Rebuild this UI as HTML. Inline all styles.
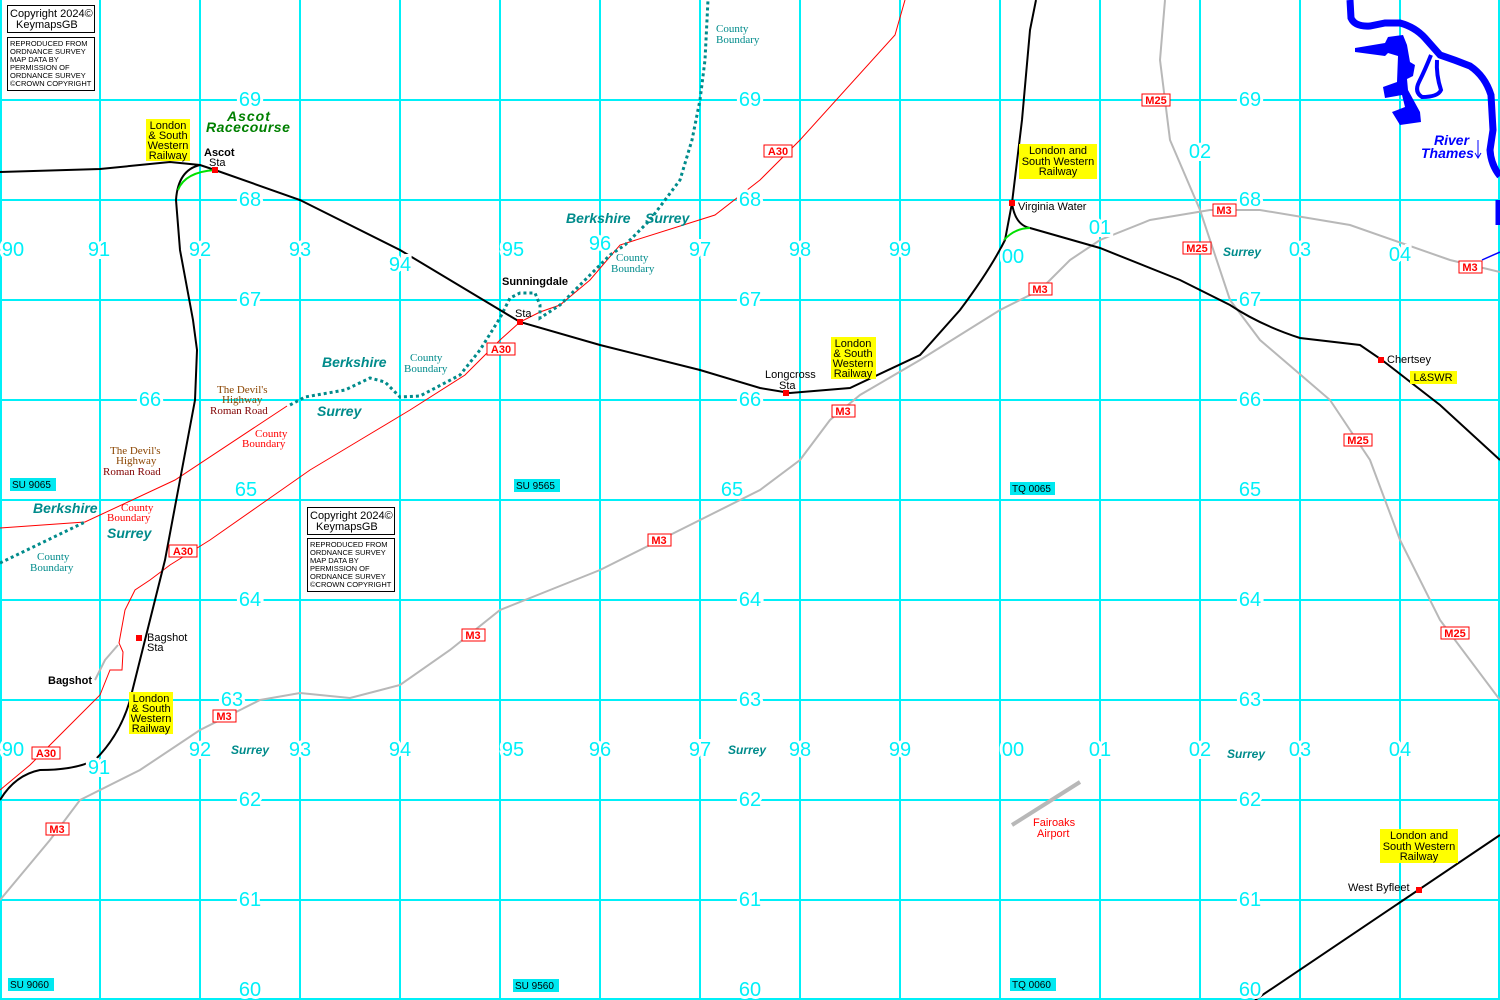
<!DOCTYPE html>
<html><head><meta charset="utf-8"><style>
html,body{margin:0;padding:0;background:#fff}
svg{display:block}
.g{font-family:"Liberation Sans",sans-serif;font-size:20px;fill:#00f0f8;stroke:#fff;stroke-width:6;paint-order:stroke;text-anchor:middle;dominant-baseline:central}
.s{font-family:"Liberation Sans",sans-serif;font-size:11px;fill:#000}
.b{font-weight:bold}
.t{font-family:"Liberation Sans",sans-serif;font-size:14px;font-style:italic;font-weight:bold;fill:#008b8b}
.se{font-family:"Liberation Serif",serif;font-size:11px}
.rl{font-family:"Liberation Sans",sans-serif;font-size:11px;font-weight:bold;fill:#f00;text-anchor:middle}
.y{font-family:"Liberation Sans",sans-serif;font-size:11px;fill:#000;text-anchor:middle}
.gr{font-family:"Liberation Sans",sans-serif;font-size:10px;fill:#000}
.c1{font-family:"Liberation Sans",sans-serif;font-size:11px}
.c2{font-family:"Liberation Sans",sans-serif;font-size:7.5px}
</style></head><body>
<svg width="1500" height="1000" viewBox="0 0 1500 1000" xmlns="http://www.w3.org/2000/svg">
<g stroke="#00f0f8" stroke-width="2">
<line x1="1" y1="0" x2="1" y2="1000"/><line x1="100" y1="0" x2="100" y2="1000"/><line x1="200" y1="0" x2="200" y2="1000"/><line x1="300" y1="0" x2="300" y2="1000"/><line x1="400" y1="0" x2="400" y2="1000"/><line x1="500" y1="0" x2="500" y2="1000"/><line x1="600" y1="0" x2="600" y2="1000"/><line x1="700" y1="0" x2="700" y2="1000"/><line x1="800" y1="0" x2="800" y2="1000"/><line x1="900" y1="0" x2="900" y2="1000"/><line x1="1000" y1="0" x2="1000" y2="1000"/><line x1="1100" y1="0" x2="1100" y2="1000"/><line x1="1200" y1="0" x2="1200" y2="1000"/><line x1="1300" y1="0" x2="1300" y2="1000"/><line x1="1400" y1="0" x2="1400" y2="1000"/><line x1="1499" y1="0" x2="1499" y2="1000"/>
<line x1="0" y1="100" x2="1500" y2="100"/><line x1="0" y1="200" x2="1500" y2="200"/><line x1="0" y1="300" x2="1500" y2="300"/><line x1="0" y1="400" x2="1500" y2="400"/><line x1="0" y1="500" x2="1500" y2="500"/><line x1="0" y1="600" x2="1500" y2="600"/><line x1="0" y1="700" x2="1500" y2="700"/><line x1="0" y1="800" x2="1500" y2="800"/><line x1="0" y1="900" x2="1500" y2="900"/><line x1="0" y1="999" x2="1500" y2="999"/>
</g>
<!-- river -->
<g fill="none" stroke="#0000ff">
<path d="M1350,0 L1351,18 Q1355,27 1370,26 L1385,23 L1400,23 Q1415,27 1425,38 L1440,55 Q1455,60 1470,66 Q1485,76 1491,95 L1493,130 L1490,150 Q1491,165 1500,176" stroke-width="7"/>
<path d="M1431,55 Q1425,70 1419,82 Q1414,92 1422,97 Q1438,97 1441,90 Q1436,75 1437,60" stroke-width="4"/>
<path d="M1498,200 L1498,225" stroke-width="5"/>
<path d="M1482,260 L1500,252" stroke-width="1.5"/>
</g>
<path d="M1355,48 L1385,43 L1388,37 L1403,35 L1407,45 L1410,62 L1415,65 L1413,76 L1407,79 L1408,90 L1420,112 L1421,122 L1400,125 L1392,112 L1405,107 L1402,95 L1385,98 L1383,87 L1397,82 L1398,56 L1388,53 L1385,56 L1355,52 Z" fill="#0000ff"/>
<text x="1434" y="145" class="t" style="fill:#0000ff">River</text>
<text x="1421" y="158" class="t" style="fill:#0000ff">Thames</text>
<path d="M1478,140 L1478,157 M1475,153 L1478,158 L1481,153" stroke="#0000ff" fill="none"/>
<!-- motorways grey -->
<g fill="none" stroke="#b8b8b8" stroke-width="2">
<path d="M0,900 L50,840 L80,800 L140,770 L200,730 L260,700 L300,693 L350,698 L400,685 L450,650 L500,610 L550,590 L600,570 L650,545 L700,520 L760,490 L800,460 L830,420 L860,395 L920,360 L1000,310 L1040,290 L1070,260 L1100,240 L1150,220 L1210,210 L1260,210 L1350,225 L1450,260 L1500,272"/>
<path d="M1165,0 L1160,60 L1170,140 L1200,210 L1230,300 L1260,340 L1330,400 L1370,460 L1400,540 L1440,620 L1500,700"/>
<path d="M95,680 L105,660 L118,645"/>
<path d="M1012,825 L1080,782" stroke-width="4"/>
</g>
<!-- red roads -->
<g fill="none" stroke="#f00" stroke-width="1">
<path d="M0,790 L30,765 L60,735 L100,695 L110,670 L122,670 L123,652 L119,643 L125,610 L135,590 L150,580 L170,565 L210,540 L260,505 L310,470 L360,440 L410,410 L465,375 L500,340 L520,322 L540,312 L560,305 L590,280 L620,245 L715,215 L760,180 L800,140 L895,35 L905,0"/>
<path d="M0,528 L85,522 L175,480 L287,406"/>
</g>
<!-- county boundary -->
<g fill="none" stroke="#008b8b" stroke-width="3" stroke-dasharray="3 3">
<path d="M0,563 L85,522"/>
<path d="M290,405 L305,397 L345,390 L370,378 L385,382 L400,397 L420,396 L460,375 L480,350 L500,318 L510,298 L520,293 L535,293 L540,305 L540,318 L560,305 L590,275 L610,255 L625,245 L650,220 L680,180 L692,140 L700,100 L705,60 L708,0"/>
</g>
<!-- railways -->
<g fill="none" stroke="#000" stroke-width="2">
<path d="M0,172 L100,169 L170,162 L200,165 L215,170 L300,200 L400,250 L500,310 L520,322 L600,345 L700,370 L760,388 L790,393 L850,388 L920,355 L960,310 Q990,270 1005,240 L1012,203 L1022,120 L1030,30 L1036,0"/>
<path d="M1012,203 Q1015,225 1030,228 L1100,248 L1180,280 L1230,305 Q1260,325 1300,338 L1360,345 L1382,360 L1440,405 L1500,460"/>
<path d="M200,165 Q178,170 176,200 L180,250 L193,320 L197,350 L195,400 L180,480 L165,560 L150,620 L140,660 L130,700 Q120,735 95,760 Q75,770 40,770 Q15,775 0,800"/>
<path d="M1255,1000 L1500,835"/>
</g>
<g fill="none" stroke="#00e000" stroke-width="2">
<path d="M178,190 Q185,172 215,170"/>
<path d="M1004,240 Q1015,228 1030,228"/>
</g>
<g fill="#f00">
<rect x="212" y="167" width="6" height="6"/><rect x="517" y="319" width="6" height="6"/><rect x="783" y="390" width="6" height="6"/><rect x="1009" y="200" width="6" height="6"/><rect x="1378" y="357" width="6" height="6"/><rect x="136" y="635" width="6" height="6"/><rect x="1416" y="887" width="6" height="6"/>
</g>
<!-- grid labels -->
<g class="g">
<text x="250" y="100">69</text><text x="750" y="100">69</text><text x="1250" y="100">69</text>
<text x="250" y="200">68</text><text x="750" y="200">68</text><text x="1250" y="200">68</text>
<text x="250" y="300">67</text><text x="750" y="300">67</text><text x="1250" y="300">67</text>
<text x="150" y="400">66</text><text x="750" y="400">66</text><text x="1250" y="400">66</text>
<text x="246" y="490">65</text><text x="732" y="490">65</text><text x="1250" y="490">65</text>
<text x="250" y="600">64</text><text x="750" y="600">64</text><text x="1250" y="600">64</text>
<text x="232" y="700">63</text><text x="750" y="700">63</text><text x="1250" y="700">63</text>
<text x="250" y="800">62</text><text x="750" y="800">62</text><text x="1250" y="800">62</text>
<text x="250" y="900">61</text><text x="750" y="900">61</text><text x="1250" y="900">61</text>
<text x="250" y="990">60</text><text x="750" y="990">60</text><text x="1250" y="990">60</text>
<text x="13" y="250">90</text><text x="99" y="250">91</text><text x="200" y="250">92</text><text x="300" y="250">93</text><text x="400" y="265">94</text><text x="513" y="250">95</text><text x="600" y="244">96</text><text x="700" y="250">97</text><text x="800" y="250">98</text><text x="900" y="250">99</text><text x="1013" y="257">00</text><text x="1100" y="228">01</text><text x="1200" y="152">02</text><text x="1300" y="250">03</text><text x="1400" y="255">04</text>
<text x="13" y="750">90</text><text x="99" y="768">91</text><text x="200" y="750">92</text><text x="300" y="750">93</text><text x="400" y="750">94</text><text x="513" y="750">95</text><text x="600" y="750">96</text><text x="700" y="750">97</text><text x="800" y="750">98</text><text x="900" y="750">99</text><text x="1013" y="750">00</text><text x="1100" y="750">01</text><text x="1200" y="750">02</text><text x="1300" y="750">03</text><text x="1400" y="750">04</text>
</g>
<!-- grid ref boxes -->
<g fill="#00e8f0">
<rect x="10" y="478" width="46" height="13"/><rect x="514" y="479" width="46" height="13"/><rect x="1010" y="482" width="45" height="13"/><rect x="8" y="978" width="46" height="13"/><rect x="513" y="979" width="46" height="13"/><rect x="1010" y="978" width="46" height="13"/>
</g>
<g class="gr">
<text x="12" y="488">SU 9065</text><text x="516" y="489">SU 9565</text><text x="1012" y="492">TQ 0065</text><text x="10" y="988">SU 9060</text><text x="515" y="989">SU 9560</text><text x="1012" y="988">TQ 0060</text>
</g>
<!-- road labels -->
<g fill="#fff" stroke="#f00" stroke-width="1">
<rect x="1142" y="94" width="28" height="12"/><rect x="764" y="145" width="28" height="12"/><rect x="1213" y="204" width="23" height="12"/><rect x="1183" y="242" width="28" height="12"/><rect x="1459" y="261" width="23" height="12"/><rect x="1029" y="283" width="23" height="12"/><rect x="487" y="343" width="28" height="12"/><rect x="832" y="405" width="23" height="12"/><rect x="1344" y="434" width="28" height="12"/><rect x="169" y="545" width="28" height="12"/><rect x="648" y="534" width="23" height="12"/><rect x="462" y="629" width="23" height="12"/><rect x="1441" y="627" width="28" height="12"/><rect x="213" y="710" width="23" height="12"/><rect x="32" y="747" width="28" height="12"/><rect x="46" y="823" width="23" height="12"/>
</g>
<g class="rl">
<text x="1156" y="104">M25</text><text x="778" y="155">A30</text><text x="1224" y="214">M3</text><text x="1197" y="252">M25</text><text x="1470" y="271">M3</text><text x="1040" y="293">M3</text><text x="501" y="353">A30</text><text x="843" y="415">M3</text><text x="1358" y="444">M25</text><text x="183" y="555">A30</text><text x="659" y="544">M3</text><text x="473" y="639">M3</text><text x="1455" y="637">M25</text><text x="224" y="720">M3</text><text x="46" y="757">A30</text><text x="57" y="833">M3</text>
</g>
<!-- yellow LSWR -->
<g fill="#ffff00">
<rect x="146" y="119" width="44" height="42"/><rect x="1019" y="144" width="78" height="35"/><rect x="831" y="337" width="45" height="42"/><rect x="129" y="692" width="44" height="42"/><rect x="1380" y="829" width="78" height="34"/><rect x="1410" y="371" width="47" height="13"/>
</g>
<g class="y">
<text x="168" y="129">London</text><text x="168" y="139">&amp; South</text><text x="168" y="149">Western</text><text x="168" y="159">Railway</text>
<text x="1058" y="154">London and</text><text x="1058" y="165">South Western</text><text x="1058" y="175">Railway</text>
<text x="853" y="347">London</text><text x="853" y="357">&amp; South</text><text x="853" y="367">Western</text><text x="853" y="377">Railway</text>
<text x="151" y="702">London</text><text x="151" y="712">&amp; South</text><text x="151" y="722">Western</text><text x="151" y="732">Railway</text>
<text x="1419" y="839">London and</text><text x="1419" y="850">South Western</text><text x="1419" y="860">Railway</text>
<text x="1433" y="381">L&amp;SWR</text>
</g>
<!-- station names -->
<g class="s">
<text x="204" y="156" class="b">Ascot</text><text x="209" y="166">Sta</text>
<text x="502" y="285" class="b">Sunningdale</text><text x="515" y="317">Sta</text>
<text x="765" y="378">Longcross</text><text x="779" y="389">Sta</text>
<text x="1018" y="210">Virginia Water</text>
<text x="1387" y="363">Chertsey</text>
<text x="147" y="641">Bagshot</text><text x="147" y="651">Sta</text>
<text x="48" y="684" class="b">Bagshot</text>
<text x="1348" y="891">West Byfleet</text>
<text x="1033" y="826" style="fill:#f00">Fairoaks</text><text x="1037" y="837" style="fill:#f00">Airport</text>
</g>
<text x="227" y="121" class="t" style="fill:#008000;letter-spacing:1px">Ascot</text>
<text x="206" y="132" class="t" style="fill:#008000;letter-spacing:0.5px">Racecourse</text>
<g class="t">
<text x="566" y="223">Berkshire</text><text x="645" y="223">Surrey</text>
<text x="322" y="367">Berkshire</text><text x="317" y="416">Surrey</text>
<text x="33" y="513">Berkshire</text><text x="107" y="538">Surrey</text>
<text x="231" y="754" style="font-size:12px">Surrey</text><text x="728" y="754" style="font-size:12px">Surrey</text>
<text x="1223" y="256" style="font-size:12px">Surrey</text><text x="1227" y="758" style="font-size:12px">Surrey</text>
</g>
<g class="se" fill="#008b8b">
<text x="716" y="32">County</text><text x="716" y="43">Boundary</text>
<text x="616" y="261">County</text><text x="611" y="272">Boundary</text>
<text x="410" y="361">County</text><text x="404" y="372">Boundary</text>
<text x="37" y="560">County</text><text x="30" y="571">Boundary</text>
</g>
<g class="se" fill="#f00">
<text x="255" y="437">County</text><text x="242" y="447">Boundary</text>
<text x="121" y="511">County</text><text x="107" y="521">Boundary</text>
</g>
<g class="se">
<text x="217" y="393" fill="#8b4500">The Devil's</text><text x="222" y="403" fill="#8b4500">Highway</text><text x="210" y="414" fill="#800000">Roman Road</text>
<text x="110" y="454" fill="#8b4500">The Devil's</text><text x="116" y="464" fill="#8b4500">Highway</text><text x="103" y="475" fill="#800000">Roman Road</text>
</g>
<!-- copyright boxes -->
<g fill="#fff" stroke="#000" stroke-width="1">
<rect x="7.5" y="5.5" width="87" height="27"/><rect x="7.5" y="37.5" width="87" height="53"/>
<rect x="307.5" y="507.5" width="87" height="27"/><rect x="307.5" y="538.5" width="87" height="53"/>
</g>
<g class="c1">
<text x="10" y="17">Copyright 2024©</text><text x="16" y="28">KeymapsGB</text>
<text x="310" y="519">Copyright 2024©</text><text x="316" y="530">KeymapsGB</text>
</g>
<g class="c2">
<text x="10" y="46">REPRODUCED FROM</text><text x="10" y="54">ORDNANCE SURVEY</text><text x="10" y="62">MAP DATA BY</text><text x="10" y="70">PERMISSION OF</text><text x="10" y="78">ORDNANCE SURVEY</text><text x="10" y="86">©CROWN COPYRIGHT</text>
<text x="310" y="547">REPRODUCED FROM</text><text x="310" y="555">ORDNANCE SURVEY</text><text x="310" y="563">MAP DATA BY</text><text x="310" y="571">PERMISSION OF</text><text x="310" y="579">ORDNANCE SURVEY</text><text x="310" y="587">©CROWN COPYRIGHT</text>
</g>
</svg>
</body></html>
